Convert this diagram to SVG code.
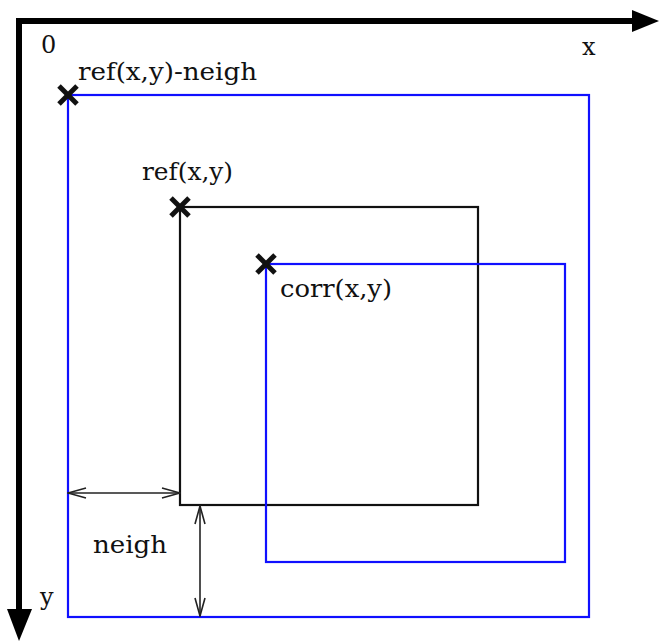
<svg xmlns="http://www.w3.org/2000/svg" width="659" height="641" viewBox="0 0 659 641">
<style>
text{font-family:"DejaVu Serif","Liberation Serif",serif;font-size:24px;fill:#111}
.blue{fill:none;stroke:#1010ff;stroke-width:2.2}
.blk{fill:none;stroke:#111;stroke-width:2.2}
.cross{stroke:#111;stroke-width:5;stroke-linecap:butt}
.dim{stroke:#222;stroke-width:1.6;fill:none}
</style>
<defs>
<marker id="chev" viewBox="0 0 20 12" refX="19" refY="6" markerWidth="20" markerHeight="12" markerUnits="userSpaceOnUse" orient="auto-start-reverse">
<path d="M1,1 L19,6 L1,11" fill="none" stroke="#222" stroke-width="1.6"/>
</marker>
<g id="xmark"><line class="cross" x1="-9" y1="-9" x2="9" y2="9"/><line class="cross" x1="-9" y1="9" x2="9" y2="-9"/></g>
</defs>
<g id="axes">
<line x1="16" y1="21" x2="636" y2="21" stroke="#000" stroke-width="6"/>
<polygon points="632,10 659,21 632,32" fill="#000"/>
<line x1="19" y1="18" x2="19" y2="612" stroke="#000" stroke-width="6"/>
<polygon points="7,609 19,641 32,609" fill="#000"/>
<text x="41" y="53">0</text>
<text x="582" y="55">x</text>
<text x="40" y="605">y</text>
</g>
<g id="outer">
<rect class="blue" x="68" y="95" width="521" height="522"/>
<use href="#xmark" x="68" y="95"/>
<text x="78" y="80" textLength="179" lengthAdjust="spacingAndGlyphs">ref(x,y)-neigh</text>
</g>
<g id="ref">
<rect class="blk" x="180" y="207" width="298" height="298"/>
<use href="#xmark" x="180" y="207"/>
<text x="142" y="180" textLength="91" lengthAdjust="spacingAndGlyphs">ref(x,y)</text>
</g>
<g id="corr">
<rect class="blue" x="266" y="264" width="299" height="298"/>
<use href="#xmark" x="266" y="264"/>
<text x="280" y="297" textLength="112" lengthAdjust="spacingAndGlyphs">corr(x,y)</text>
</g>
<g id="connectors">
<line class="dim" x1="68" y1="493" x2="180" y2="493" marker-start="url(#chev)" marker-end="url(#chev)"/>
<line class="dim" x1="200" y1="506" x2="200" y2="616" marker-start="url(#chev)" marker-end="url(#chev)"/>
</g>
<g id="neigh">
<text x="93" y="553" textLength="74" lengthAdjust="spacingAndGlyphs">neigh</text>
</g>
</svg>
